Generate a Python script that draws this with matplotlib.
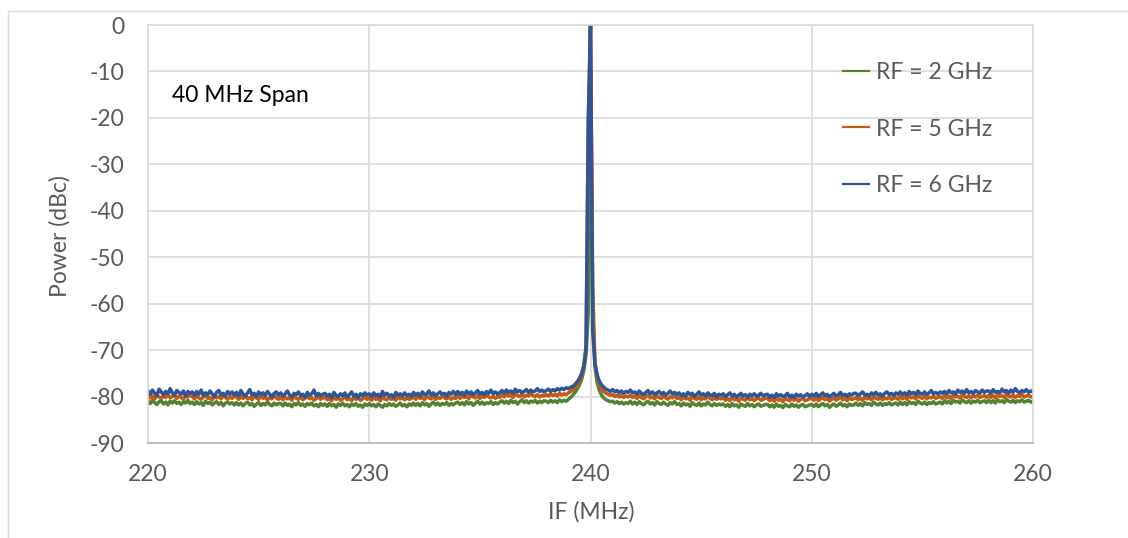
import numpy as np
import matplotlib
matplotlib.use("Agg")
import matplotlib.pyplot as plt
from matplotlib.patches import Rectangle

plt.rcParams["font.family"] = ["Lato", "DejaVu Sans"]
plt.rcParams["axes.unicode_minus"] = False

# IF sweep, 220-260 MHz in 0.1 MHz steps (401 points)
if_mhz = np.linspace(220.0, 260.0, 401)

# measured spectra, dBc relative to the 240 MHz carrier, 20 points per row (2 MHz)
rf2_dbc = [
    -81.0, -81.5, -80.8, -81.3, -81.7, -81.1, -80.9, -81.6, -81.2, -81.8, -81.0, -81.4, -80.9, -81.5, -81.2, -81.7, -81.1, -81.4, -80.8, -81.5,
    -81.2, -81.7, -81.1, -81.6, -81.3, -81.9, -81.0, -81.5, -81.2, -81.8, -81.4, -81.1, -81.7, -81.3, -82.0, -81.4, -81.2, -81.6, -81.3, -81.8,
    -81.3, -81.8, -81.4, -82.0, -81.5, -81.2, -81.8, -81.5, -82.1, -81.6, -81.3, -81.9, -81.5, -81.8, -81.2, -81.7, -82.0, -81.4, -81.8, -81.5,
    -81.5, -82.0, -81.4, -81.9, -81.6, -82.2, -81.5, -81.8, -81.3, -81.9, -81.6, -82.1, -81.5, -81.8, -81.4, -82.0, -81.7, -82.2, -81.5, -81.9,
    -81.6, -82.1, -81.5, -82.0, -81.7, -82.3, -81.6, -81.9, -81.4, -82.0, -81.7, -82.2, -81.6, -81.9, -81.5, -82.1, -81.8, -82.3, -81.6, -81.9,
    -81.5, -82.0, -81.7, -82.2, -81.6, -81.9, -82.3, -81.7, -82.0, -81.5, -81.9, -81.6, -82.1, -81.8, -81.4, -82.0, -81.7, -82.2, -81.6, -81.9,
    -81.4, -81.9, -81.5, -82.0, -81.3, -81.8, -81.5, -82.1, -81.6, -81.2, -81.8, -81.4, -81.9, -81.5, -81.7, -81.3, -81.9, -81.5, -81.8, -81.4,
    -81.2, -81.7, -81.3, -81.8, -81.1, -81.6, -81.3, -81.9, -81.4, -81.0, -81.6, -81.2, -81.7, -81.3, -81.5, -81.1, -81.7, -81.3, -81.6, -81.2,
    -80.9, -81.4, -81.0, -81.5, -80.8, -81.3, -81.0, -81.6, -81.1, -80.7, -81.3, -80.9, -81.4, -81.0, -81.2, -80.8, -81.4, -81.0, -81.3, -80.9,
    -81.0, -81.3, -80.8, -81.2, -80.9, -81.3, -80.7, -81.1, -80.8, -81.0, -80.6, -80.2, -79.7, -79.1, -78.4, -77.5, -76.3, -74.3, -71.0, -62.0,
    0.0, -61.0, -73.5, -77.0, -78.7, -79.7, -80.3, -80.7, -80.9, -81.1, -81.0, -81.4, -81.1, -81.5, -81.2, -81.6, -81.3, -81.5, -81.0, -81.6,
    -81.2, -81.7, -81.1, -81.5, -81.8, -81.3, -81.0, -81.6, -81.3, -81.8, -81.1, -81.5, -81.7, -81.2, -81.6, -81.9, -81.3, -81.6, -81.1, -81.7,
    -81.5, -82.0, -81.4, -81.8, -81.6, -82.1, -81.3, -81.7, -81.9, -81.4, -82.0, -81.6, -81.8, -81.2, -81.7, -82.0, -81.5, -81.9, -81.6, -81.8,
    -81.6, -82.1, -81.7, -82.2, -81.5, -82.0, -81.8, -82.3, -81.6, -81.9, -82.1, -81.5, -82.0, -81.7, -82.2, -81.8, -81.6, -82.1, -81.9, -81.7,
    -81.7, -82.2, -81.8, -82.3, -81.6, -82.1, -81.9, -82.4, -81.7, -82.0, -82.2, -81.6, -82.1, -81.8, -82.3, -81.9, -81.7, -82.2, -82.0, -81.8,
    -81.7, -82.1, -81.6, -82.2, -81.8, -81.5, -82.0, -81.7, -82.3, -81.9, -81.6, -82.1, -81.8, -81.4, -82.0, -81.7, -82.2, -81.6, -81.9, -81.8,
    -81.4, -81.9, -81.5, -82.0, -81.3, -81.7, -81.5, -81.9, -81.2, -81.6, -81.8, -81.4, -81.9, -81.5, -81.7, -81.3, -81.8, -81.6, -81.4, -81.8,
    -81.2, -81.7, -81.3, -81.8, -81.1, -81.5, -81.3, -81.7, -81.0, -81.4, -81.6, -81.2, -81.7, -81.3, -81.5, -81.1, -81.6, -81.4, -81.2, -81.6,
    -80.9, -81.4, -81.0, -81.5, -80.8, -81.2, -81.0, -81.4, -80.7, -81.1, -81.3, -80.9, -81.4, -81.0, -81.2, -80.8, -81.3, -81.1, -80.9, -81.3,
    -80.8, -81.3, -80.9, -81.4, -80.7, -81.1, -80.9, -81.3, -80.6, -81.0, -81.2, -80.8, -81.3, -80.9, -81.1, -80.7, -81.2, -81.0, -80.8, -81.2,
    -81.0,
]

rf5_dbc = [
    -79.7, -80.3, -79.9, -80.5, -79.6, -80.1, -80.4, -79.8, -80.2, -79.5, -80.3, -80.0, -79.7, -80.4, -79.9, -80.2, -80.6, -79.8, -80.1, -79.6,
    -80.0, -80.5, -79.8, -80.3, -80.6, -80.1, -79.7, -80.4, -80.2, -80.7, -79.9, -80.3, -80.0, -80.5, -79.8, -80.2, -80.6, -80.0, -80.4, -79.9,
    -80.1, -80.6, -80.0, -80.4, -79.7, -80.5, -80.2, -80.7, -80.0, -80.3, -80.6, -79.9, -80.4, -80.1, -80.8, -80.2, -80.5, -79.8, -80.3, -80.6,
    -80.2, -80.7, -80.1, -80.5, -80.3, -80.8, -79.9, -80.4, -80.6, -80.1, -80.7, -80.3, -80.0, -80.5, -80.2, -80.8, -80.4, -80.1, -80.6, -80.3,
    -80.2, -80.7, -80.4, -80.9, -80.1, -80.6, -80.3, -80.8, -80.5, -80.0, -80.7, -80.4, -80.9, -80.2, -80.6, -80.3, -80.8, -80.5, -80.1, -80.6,
    -80.3, -80.8, -80.2, -80.6, -80.4, -80.9, -80.1, -80.5, -80.7, -80.2, -80.6, -80.4, -80.8, -80.0, -80.5, -80.3, -80.7, -80.2, -80.6, -80.4,
    -80.1, -80.6, -80.0, -80.4, -80.2, -80.7, -79.9, -80.3, -80.5, -80.0, -80.6, -80.2, -80.4, -79.8, -80.3, -80.5, -80.1, -80.6, -80.2, -80.4,
    -79.9, -80.4, -79.8, -80.2, -80.0, -80.5, -79.7, -80.1, -80.3, -79.8, -80.4, -80.0, -80.2, -79.6, -80.1, -80.3, -79.9, -80.4, -80.0, -80.2,
    -79.6, -80.1, -79.5, -79.9, -79.7, -80.2, -79.4, -79.8, -80.0, -79.5, -80.1, -79.7, -79.9, -79.3, -79.8, -80.0, -79.6, -80.1, -79.7, -79.9,
    -79.6, -79.9, -79.4, -79.8, -79.5, -79.9, -79.3, -79.7, -79.4, -79.6, -79.2, -78.9, -78.6, -78.1, -77.5, -76.7, -75.6, -73.8, -69.0, -20.6,
    0.0, -56.5, -72.5, -75.8, -77.4, -78.3, -78.9, -79.3, -79.5, -79.7, -79.6, -80.0, -79.7, -80.1, -79.8, -80.2, -79.9, -80.1, -79.7, -80.2,
    -79.9, -80.4, -79.8, -80.2, -80.5, -80.0, -79.7, -80.3, -80.1, -80.5, -79.8, -80.2, -80.4, -79.9, -80.3, -80.6, -80.0, -80.3, -79.8, -80.4,
    -80.2, -80.7, -80.1, -80.5, -80.3, -80.8, -80.0, -80.4, -80.6, -80.1, -80.7, -80.3, -80.5, -79.9, -80.4, -80.7, -80.2, -80.6, -80.3, -80.5,
    -80.3, -80.8, -80.4, -80.9, -80.2, -80.7, -80.5, -81.0, -80.3, -80.6, -80.8, -80.2, -80.7, -80.4, -80.9, -80.5, -80.3, -80.8, -80.6, -80.4,
    -80.4, -80.9, -80.5, -81.0, -80.3, -80.8, -80.6, -81.1, -80.4, -80.7, -80.9, -80.3, -80.8, -80.5, -81.0, -80.6, -80.4, -80.9, -80.7, -80.5,
    -80.4, -80.8, -80.3, -80.9, -80.5, -80.2, -80.7, -80.4, -81.0, -80.6, -80.3, -80.8, -80.5, -80.1, -80.7, -80.4, -80.9, -80.3, -80.6, -80.5,
    -80.2, -80.7, -80.3, -80.8, -80.1, -80.5, -80.3, -80.7, -80.0, -80.4, -80.6, -80.2, -80.7, -80.3, -80.5, -80.1, -80.6, -80.4, -80.2, -80.6,
    -80.0, -80.5, -80.1, -80.6, -79.9, -80.3, -80.1, -80.5, -79.8, -80.2, -80.4, -80.0, -80.5, -80.1, -80.3, -79.9, -80.4, -80.2, -80.0, -80.4,
    -79.8, -80.3, -79.9, -80.4, -79.7, -80.1, -79.9, -80.3, -79.6, -80.0, -80.2, -79.8, -80.3, -79.9, -80.1, -79.7, -80.2, -80.0, -79.8, -80.2,
    -79.7, -80.2, -79.8, -80.3, -79.6, -80.0, -79.8, -80.2, -79.5, -79.9, -80.1, -79.7, -80.2, -79.8, -80.0, -79.6, -80.1, -79.9, -79.7, -80.1,
    -80.0,
]

rf6_dbc = [
    -78.8, -79.5, -78.6, -79.3, -79.8, -78.4, -79.0, -79.6, -78.9, -79.4, -78.3, -79.2, -79.7, -78.7, -79.1, -79.5, -78.8, -79.9, -78.9, -79.3,
    -79.0, -79.7, -78.9, -79.5, -78.6, -79.8, -79.2, -79.6, -78.8, -79.4, -80.0, -79.1, -78.7, -79.6, -79.3, -79.9, -78.9, -79.5, -79.0, -79.7,
    -79.1, -79.8, -78.7, -79.5, -79.9, -79.2, -78.5, -79.7, -79.3, -80.0, -79.0, -79.6, -79.2, -79.8, -78.9, -79.5, -80.1, -79.3, -79.0, -79.7,
    -79.2, -79.9, -79.4, -78.8, -79.7, -80.1, -79.3, -79.6, -79.0, -79.8, -79.5, -80.2, -79.1, -79.7, -79.4, -78.6, -79.9, -79.3, -79.8, -79.5,
    -79.3, -79.9, -79.5, -80.2, -79.1, -79.7, -80.0, -79.4, -79.8, -79.2, -80.1, -79.6, -79.0, -79.9, -79.5, -80.3, -79.4, -79.8, -79.2, -79.7,
    -79.4, -80.0, -79.2, -79.8, -79.5, -80.1, -78.9, -79.7, -79.3, -79.9, -79.6, -80.2, -79.1, -79.7, -79.4, -79.9, -79.2, -79.8, -79.5, -80.0,
    -79.1, -79.7, -79.3, -79.9, -79.0, -79.6, -79.4, -78.8, -79.7, -79.2, -79.8, -79.4, -79.0, -79.6, -79.3, -79.9, -79.1, -79.5, -78.9, -79.6,
    -78.9, -79.5, -79.1, -79.7, -78.8, -79.4, -79.0, -79.6, -79.2, -78.7, -79.5, -79.1, -79.6, -78.9, -79.3, -78.6, -79.4, -79.0, -79.5, -79.1,
    -78.7, -79.2, -78.6, -79.1, -78.8, -79.3, -78.4, -79.0, -78.7, -79.2, -78.9, -78.5, -79.1, -78.6, -79.0, -78.8, -78.3, -78.9, -78.6, -79.0,
    -78.7, -78.4, -78.9, -78.5, -78.8, -78.3, -78.6, -78.2, -78.5, -78.1, -78.3, -78.0, -77.8, -77.4, -76.8, -76.1, -75.0, -73.2, -69.5, -21.0,
    0.0, -66.0, -73.0, -75.3, -76.7, -77.5, -78.0, -78.4, -78.6, -78.9, -78.5, -79.0, -78.7, -79.2, -78.8, -79.3, -78.9, -79.1, -78.6, -79.2,
    -79.0, -79.5, -78.8, -79.3, -79.6, -79.1, -78.7, -79.4, -79.0, -79.6, -79.2, -78.9, -79.5, -79.1, -79.7, -79.3, -78.8, -79.4, -79.1, -79.6,
    -79.2, -79.8, -79.4, -79.9, -79.1, -79.6, -79.3, -80.0, -79.5, -79.0, -79.7, -79.4, -79.9, -79.2, -79.6, -79.8, -79.3, -80.1, -79.5, -79.7,
    -79.4, -80.0, -79.6, -79.2, -79.9, -79.5, -80.1, -79.7, -79.3, -79.9, -79.6, -80.2, -79.5, -79.8, -79.4, -80.0, -79.7, -79.3, -79.9, -79.6,
    -79.5, -80.1, -79.7, -80.2, -79.4, -79.9, -79.6, -80.0, -79.8, -79.3, -80.1, -79.7, -80.2, -79.5, -79.9, -79.6, -80.1, -79.8, -79.4, -80.0,
    -79.5, -79.9, -79.3, -80.0, -79.6, -79.2, -79.8, -79.5, -80.1, -79.7, -79.3, -79.9, -79.6, -79.1, -79.8, -79.5, -80.0, -79.4, -79.7, -79.3,
    -79.3, -79.8, -79.4, -79.0, -79.7, -79.5, -79.9, -79.2, -79.6, -79.1, -79.7, -79.4, -79.9, -79.3, -79.0, -79.6, -79.3, -79.8, -79.2, -79.5,
    -79.0, -79.6, -79.2, -79.7, -78.9, -79.4, -79.1, -79.6, -78.8, -79.3, -79.5, -79.0, -79.6, -79.2, -78.7, -79.4, -79.1, -79.5, -79.0, -79.3,
    -78.9, -79.4, -78.7, -79.2, -79.0, -79.5, -78.6, -79.1, -78.8, -79.3, -78.5, -79.2, -78.9, -79.4, -78.7, -79.0, -79.3, -78.6, -79.1, -78.8,
    -78.8, -79.3, -78.5, -79.1, -78.9, -79.2, -78.4, -79.0, -78.7, -79.3, -78.6, -79.1, -78.3, -78.9, -79.2, -78.7, -79.0, -78.5, -79.1, -78.8,
    -79.0,
]

series_labels = ["RF = 2 GHz", "RF = 5 GHz", "RF = 6 GHz"]
series_colors = ["#548235", "#C55A11", "#2F5597"]

x_ticks = [220, 230, 240, 250, 260]
y_ticks = [0, -10, -20, -30, -40, -50, -60, -70, -80, -90]

for s in (rf2_dbc, rf5_dbc, rf6_dbc):
    assert len(s) == len(if_mhz)

W, H = 1128, 538
GRID = "#d9d9d9"
TEXT = "#595959"
FS = 16.5

fig = plt.figure(figsize=(W / 100, H / 100), dpi=100)
fig.patch.set_facecolor("white")

# chart area outline (runs off the right/bottom edge)
fig.add_artist(Rectangle((8 / W, -0.1), 1.2, (1 - 11 / H) + 0.1,
                         transform=fig.transFigure, fill=False,
                         ec=GRID, lw=1.0, clip_on=False))

ax = fig.add_axes([148 / W, 1 - 443 / H, 885 / W, 418 / H])

for data, label, color in zip((rf2_dbc, rf5_dbc, rf6_dbc), series_labels, series_colors):
    ax.plot(if_mhz, data, color=color, lw=2.5, label=label)

ax.set_xlim(220, 260)
ax.set_ylim(-90, 0)
ax.set_xticks(x_ticks)
ax.set_yticks(y_ticks)
ax.set_axisbelow(True)
ax.grid(True, color=GRID, lw=1.2)
ax.tick_params(length=0, labelsize=FS, labelcolor=TEXT)
ax.tick_params(axis="y", pad=17)
ax.tick_params(axis="x", pad=15)

for side in ("top", "right", "left"):
    ax.spines[side].set_color(GRID)
    ax.spines[side].set_linewidth(1.2)
ax.spines["bottom"].set_color("#bfbfbf")
ax.spines["bottom"].set_linewidth(1.4)

fig.text(60 / W, 1 - 236 / H, "Power (dBc)", rotation=90, ha="center", va="center",
         fontsize=FS, color=TEXT)
fig.text(591 / W, 1 - 512 / H, "IF (MHz)", ha="center", va="center",
         fontsize=FS, color=TEXT)
fig.text(172 / W, 1 - 95 / H, "40 MHz Span", ha="left", va="center",
         fontsize=FS, color="black")

leg = ax.legend(loc="upper left", bbox_to_anchor=(843 / W, 1 - 62 / H),
                bbox_transform=fig.transFigure, frameon=False,
                fontsize=FS, handlelength=1.15, handletextpad=0.3,
                labelspacing=1.55, borderpad=0, borderaxespad=0)
for t in leg.get_texts():
    t.set_color(TEXT)
for h in leg.get_lines():
    h.set_linewidth(1.6)

fig.savefig("out.png", dpi=100, facecolor="white")
